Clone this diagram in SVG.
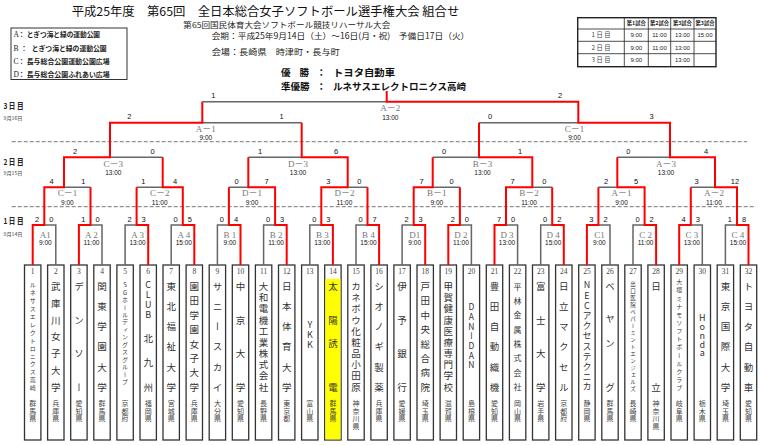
<svg xmlns="http://www.w3.org/2000/svg" width="760" height="445" viewBox="0 0 760 445">
<style>
text{font-family:"Noto Sans CJK JP","Liberation Sans",sans-serif;fill:#222}
.ttl{font-size:12px;fill:#111}
.sub{font-size:7.8px}
.info{font-size:8.3px}
.lg{font-size:7px;font-weight:bold}
.lgl{font-family:"Liberation Serif","Noto Sans CJK JP",serif;font-size:7.5px;font-weight:normal}
.win{font-size:9.5px;font-weight:bold;fill:#111}
.th{font-size:5.3px;text-anchor:middle;font-weight:bold}
.td{font-size:6px;text-anchor:middle;font-family:"Liberation Sans",sans-serif}
.tr{font-size:6.3px;text-anchor:middle;fill:#444}
.day{font-size:8px;font-weight:bold}
.dt{font-size:5px;fill:#444}
.dash{stroke:#777;stroke-width:1;stroke-dasharray:4 2;fill:none}
.l{fill:none;stroke:#666;stroke-width:1.5}
.w{fill:none;stroke:#ff0000;stroke-width:2}
.mn{font-family:"Liberation Serif","Noto Sans CJK JP",serif;font-size:9px;fill:#777;text-anchor:middle}
.mt{font-family:"Liberation Sans",sans-serif;font-size:6.5px;fill:#111;text-anchor:middle}
.sc{font-family:"Liberation Sans",sans-serif;font-size:7.5px;fill:#111;text-anchor:middle}
.box{fill:#fff;stroke:#333;stroke-width:1.3}
.no{font-family:"Liberation Serif",serif;font-size:7.5px;text-anchor:middle;fill:#444}
.v{writing-mode:vertical-rl;text-orientation:upright;font-size:9.5px;fill:#333}
.pf{writing-mode:vertical-rl;text-orientation:upright;font-size:7px;fill:#444;letter-spacing:0.5px}
</style>
<rect width="760" height="445" fill="#fff"/>

<g id="header">
<text class="ttl" x="71.7" y="16.2" textLength="387.6" lengthAdjust="spacingAndGlyphs">平成25年度　第65回　全日本総合女子ソフトボール選手権大会 組合せ</text>
<text class="sub" x="183.3" y="28" textLength="207" lengthAdjust="spacingAndGlyphs">第65回国民体育大会ソフトボール競技リハーサル大会</text>
<text class="info" x="211.7" y="39.3" textLength="257.6" lengthAdjust="spacingAndGlyphs">会期：平成25年9月14日（土）～16日(月・祝)　予備日17日（火）</text>
<text class="info" x="211.7" y="54.5" textLength="128" lengthAdjust="spacingAndGlyphs">会場：長崎県　時津町・長与町</text>
</g>

<g id="legend">
<rect x="11" y="28" width="116" height="51.5" fill="#fff" stroke="#333" stroke-width="1"/>
<text class="lg" y="37"><tspan class="lgl" x="13.5">A</tspan><tspan x="18">：</tspan><tspan x="26.7" textLength="73.3" lengthAdjust="spacingAndGlyphs">とぎつ海と緑の運動公園</tspan></text>
<text class="lg" y="50.8"><tspan class="lgl" x="13.5">B</tspan><tspan x="20.5">：</tspan><tspan x="31.7" textLength="75" lengthAdjust="spacingAndGlyphs">とぎつ海と緑の運動公園</tspan></text>
<text class="lg" y="64.2"><tspan class="lgl" x="13.5">C</tspan><tspan x="18">：</tspan><tspan x="26.7" textLength="83" lengthAdjust="spacingAndGlyphs">長与総合公園運動公園広場</tspan></text>
<text class="lg" y="76.5"><tspan class="lgl" x="13.5">D</tspan><tspan x="18">：</tspan><tspan x="26.7" textLength="83" lengthAdjust="spacingAndGlyphs">長与総合公園ふれあい広場</tspan></text>
</g>

<g id="schedule">
<rect x="577.7" y="17.7" width="138.3" height="49" fill="#fff" stroke="#222" stroke-width="1.4"/>
<path d="M577.7 29H716M577.7 41.3H716M577.7 53.7H716M624.3 17.7V66.7M648.3 17.7V66.7M670.7 17.7V66.7M694 17.7V66.7" stroke="#222" stroke-width="0.8" fill="none"/>
<text class="th" x="636.3" y="25.3">第1試合</text>
<text class="th" x="659.5" y="25.3">第2試合</text>
<text class="th" x="682.4" y="25.3">第3試合</text>
<text class="th" x="705" y="25.3">第3試合</text>
<text class="tr" x="601" y="37.4">1 日 目</text>
<text class="tr" x="601" y="49.7">2 日 目</text>
<text class="tr" x="601" y="62.3">3 日 目</text>
<text class="td" x="636.3" y="37.2">9:00</text>
<text class="td" x="659.5" y="37.2">11:00</text>
<text class="td" x="682.4" y="37.2">13:00</text>
<text class="td" x="705" y="37.2">15:00</text>
<text class="td" x="636.3" y="49.5">9:00</text>
<text class="td" x="659.5" y="49.5">11:00</text>
<text class="td" x="682.4" y="49.5">13:00</text>
<text class="td" x="636.3" y="62.1">9:00</text>
<text class="td" x="682.4" y="62.1">13:00</text>
</g>

<g id="result">
<text class="win" y="75.5"><tspan x="281">優</tspan><tspan x="299.5">勝</tspan><tspan x="316.5">：</tspan><tspan x="333" textLength="62" lengthAdjust="spacingAndGlyphs">トヨタ自動車</tspan></text>
<text class="win" y="89.5"><tspan x="281" textLength="28.5" lengthAdjust="spacingAndGlyphs">準優勝</tspan><tspan x="316.5">：</tspan><tspan x="333" textLength="133" lengthAdjust="spacingAndGlyphs">ルネサスエレクトロニクス高崎</tspan></text>
</g>

<g id="days">
<text class="day" x="3.5" y="109" textLength="20" lengthAdjust="spacingAndGlyphs">3 日 目</text>
<text class="dt" x="3.5" y="119.7" textLength="19" lengthAdjust="spacingAndGlyphs">9月16日</text>
<text class="day" x="3.5" y="165" textLength="20" lengthAdjust="spacingAndGlyphs">2 日 目</text>
<text class="dt" x="3.5" y="175.3" textLength="19" lengthAdjust="spacingAndGlyphs">9月15日</text>
<text class="day" x="3.5" y="223.5" textLength="20" lengthAdjust="spacingAndGlyphs">1 日 目</text>
<text class="dt" x="3.5" y="235.5" textLength="19" lengthAdjust="spacingAndGlyphs">9月14日</text>
<path class="dash" d="M11.7 141.7H747M11.7 206.7H756"/>
</g>

<g id="teams">
<g id="team-1" transform="translate(32.7 0)"><rect class="box" x="-8.2" y="265" width="16.4" height="175"/><text class="no" x="0" y="273.5">1</text><text class="v" x="0" y="282" style="font-size:6px;letter-spacing:1.92px">ルネサスエレクトロニクス高崎</text><text class="pf" x="0" y="400">群馬県</text></g>
<g id="team-2" transform="translate(55.8 0)"><rect class="box" x="-8.2" y="265" width="16.4" height="175"/><text class="no" x="0" y="273.5">2</text><text class="v" x="0" y="281.75" style="letter-spacing:7.25px">武庫川女子大学</text><text class="pf" x="0" y="400">兵庫県</text></g>
<g id="team-3" transform="translate(78.9 0)"><rect class="box" x="-8.2" y="265" width="16.4" height="175"/><text class="no" x="0" y="273.5">3</text><text class="v" x="0 0 0 0" y="281.75 315.25 348.75 382.25">デンソー</text><text class="pf" x="0" y="400">愛知県</text></g>
<g id="team-4" transform="translate(102 0)"><rect class="box" x="-8.2" y="265" width="16.4" height="175"/><text class="no" x="0" y="273.5">4</text><text class="v" x="0" y="281.75" style="letter-spacing:10.6px">関東学園大学</text><text class="pf" x="0" y="400">群馬県</text></g>
<g id="team-5" transform="translate(125.1 0)"><rect class="box" x="-8.2" y="265" width="16.4" height="175"/><text class="no" x="0" y="273.5">5</text><text class="v" x="0" y="282" style="font-size:6px;letter-spacing:1.44px">SGホールディングスグループ</text><text class="pf" x="0" y="400">京都府</text></g>
<g id="team-6" transform="translate(148.2 0)"><rect class="box" x="-8.2" y="265" width="16.4" height="175"/><text class="no" x="0" y="273.5">6</text><text class="v" x="0" y="280.5" style="font-size:9px;letter-spacing:0.7px">CLUB</text><text class="v" x="0 0 0" y="333.25 357.75 382.25">北九州</text><text class="pf" x="0" y="400">福岡県</text></g>
<g id="team-7" transform="translate(171.2 0)"><rect class="box" x="-8.2" y="265" width="16.4" height="175"/><text class="no" x="0" y="273.5">7</text><text class="v" x="0" y="281.75" style="letter-spacing:10.6px">東北福祉大学</text><text class="pf" x="0" y="400">宮城県</text></g>
<g id="team-8" transform="translate(194.3 0)"><rect class="box" x="-8.2" y="265" width="16.4" height="175"/><text class="no" x="0" y="273.5">8</text><text class="v" x="0" y="281.75" style="letter-spacing:4.86px">園田学園女子大学</text><text class="pf" x="0" y="400">兵庫県</text></g>
<g id="team-9" transform="translate(217.4 0)"><rect class="box" x="-8.2" y="265" width="16.4" height="175"/><text class="no" x="0" y="273.5">9</text><text class="v" x="0" y="281.75" style="letter-spacing:10.6px">サニースカイ</text><text class="pf" x="0" y="400">大分県</text></g>
<g id="team-10" transform="translate(240.5 0)"><rect class="box" x="-8.2" y="265" width="16.4" height="175"/><text class="no" x="0" y="273.5">10</text><text class="v" x="0 0 0 0" y="281.75 315.25 348.75 382.25">中京大学</text><text class="pf" x="0" y="400">愛知県</text></g>
<g id="team-11" transform="translate(263.6 0)"><rect class="box" x="-8.2" y="265" width="16.4" height="175"/><text class="no" x="0" y="273.5">11</text><text class="v" x="0" y="281.75" style="letter-spacing:1.67px">大和電機工業株式会社</text><text class="pf" x="0" y="400">長野県</text></g>
<g id="team-12" transform="translate(286.7 0)"><rect class="box" x="-8.2" y="265" width="16.4" height="175"/><text class="no" x="0" y="273.5">12</text><text class="v" x="0" y="281.75" style="letter-spacing:10.6px">日本体育大学</text><text class="pf" x="0" y="400">東京都</text></g>
<g id="team-13" transform="translate(309.8 0)"><rect class="box" x="-8.2" y="265" width="16.4" height="175"/><text class="no" x="0" y="273.5">13</text><text class="v" x="0" y="320.5" style="font-size:9px;letter-spacing:1px">YKK</text><text class="pf" x="0" y="400">富山県</text></g>
<g id="team-14" transform="translate(332.9 0)"><rect class="box" x="-8.2" y="265" width="16.4" height="175"/><rect x="-7.55" y="279" width="15.1" height="160.35" fill="#ffff00"/><text class="no" x="0" y="273.5">14</text><text class="v" x="0 0 0 0" y="281.75 315.25 338.75 382.25">太陽誘電</text><text class="pf" x="0" y="400">群馬県</text></g>
<g id="team-15" transform="translate(356 0)"><rect class="box" x="-8.2" y="265" width="16.4" height="175"/><text class="no" x="0" y="273.5">15</text><text class="v" x="0" y="281.75" style="letter-spacing:1.67px">カネボウ化粧品小田原</text><text class="pf" x="0" y="400">神奈川県</text></g>
<g id="team-16" transform="translate(379.1 0)"><rect class="box" x="-8.2" y="265" width="16.4" height="175"/><text class="no" x="0" y="273.5">16</text><text class="v" x="0" y="281.75" style="letter-spacing:10.6px">シオノギ製薬</text><text class="pf" x="0" y="400">兵庫県</text></g>
<g id="team-17" transform="translate(402.1 0)"><rect class="box" x="-8.2" y="265" width="16.4" height="175"/><text class="no" x="0" y="273.5">17</text><text class="v" x="0 0 0 0" y="281.75 315.25 348.75 382.25">伊予銀行</text><text class="pf" x="0" y="400">愛媛県</text></g>
<g id="team-18" transform="translate(425.2 0)"><rect class="box" x="-8.2" y="265" width="16.4" height="175"/><text class="no" x="0" y="273.5">18</text><text class="v" x="0" y="281.75" style="letter-spacing:4.86px">戸田中央総合病院</text><text class="pf" x="0" y="400">埼玉県</text></g>
<g id="team-19" transform="translate(448.3 0)"><rect class="box" x="-8.2" y="265" width="16.4" height="175"/><text class="no" x="0" y="273.5">19</text><text class="v" x="0" y="281.75" style="letter-spacing:1.67px">甲賀健康医療専門学校</text><text class="pf" x="0" y="400">滋賀県</text></g>
<g id="team-20" transform="translate(471.4 0)"><rect class="box" x="-8.2" y="265" width="16.4" height="175"/><text class="no" x="0" y="273.5">20</text><text class="v" x="0" y="302.75" style="font-size:8.5px;letter-spacing:1.17px">DANーDAN</text><text class="pf" x="0" y="400">島根県</text></g>
<g id="team-21" transform="translate(494.5 0)"><rect class="box" x="-8.2" y="265" width="16.4" height="175"/><text class="no" x="0" y="273.5">21</text><text class="v" x="0" y="281.75" style="letter-spacing:10.6px">豊田自動織機</text><text class="pf" x="0" y="400">愛知県</text></g>
<g id="team-22" transform="translate(517.6 0)"><rect class="box" x="-8.2" y="265" width="16.4" height="175"/><text class="no" x="0" y="273.5">22</text><text class="v" x="0" y="282.5" style="font-size:8px;letter-spacing:6.36px">平林金属株式会社</text><text class="pf" x="0" y="400">岡山県</text></g>
<g id="team-23" transform="translate(540.7 0)"><rect class="box" x="-8.2" y="265" width="16.4" height="175"/><text class="no" x="0" y="273.5">23</text><text class="v" x="0 0 0 0" y="281.75 315.25 348.75 382.25">富士大学</text><text class="pf" x="0" y="400">岩手県</text></g>
<g id="team-24" transform="translate(563.8 0)"><rect class="box" x="-8.2" y="265" width="16.4" height="175"/><text class="no" x="0" y="273.5">24</text><text class="v" x="0" y="281.75" style="letter-spacing:10.6px">日立マクセル</text><text class="pf" x="0" y="400">京都府</text></g>
<g id="team-25" transform="translate(586.9 0)"><rect class="box" x="-8.2" y="265" width="16.4" height="175"/><text class="no" x="0" y="273.5">25</text><text class="v" x="0" y="280.5" style="font-size:9px;letter-spacing:1.2px">NECアクセステクニカ</text><text class="pf" x="0" y="400">静岡県</text></g>
<g id="team-26" transform="translate(610 0)"><rect class="box" x="-8.2" y="265" width="16.4" height="175"/><text class="no" x="0" y="273.5">26</text><text class="v" x="0 0 0 0" y="281.75 313.25 338.75 382.25">ベヤング</text><text class="pf" x="0" y="400">群馬県</text></g>
<g id="team-27" transform="translate(633 0)"><rect class="box" x="-8.2" y="265" width="16.4" height="175"/><text class="no" x="0" y="273.5">27</text><text class="v" x="0" y="280.95" style="font-size:5.5px;letter-spacing:1.5px">出口医院ペパーミントエンジェルズ</text><text class="pf" x="0" y="400">長崎県</text></g>
<g id="team-28" transform="translate(656.1 0)"><rect class="box" x="-8.2" y="265" width="16.4" height="175"/><text class="no" x="0" y="273.5">28</text><text class="v" x="0 0" y="281.75 382.25">日立</text><text class="pf" x="0" y="400">神奈川県</text></g>
<g id="team-29" transform="translate(679.2 0)"><rect class="box" x="-8.2" y="265" width="16.4" height="175"/><text class="no" x="0" y="273.5">29</text><text class="v" x="0" y="279" style="font-size:6px;letter-spacing:2.15px">大垣ミナモソフトボールクラブ</text><text class="pf" x="0" y="400">岐阜県</text></g>
<g id="team-30" transform="translate(702.3 0)"><rect class="box" x="-8.2" y="265" width="16.4" height="175"/><text class="no" x="0" y="273.5">30</text><text class="v" x="0" y="313.5" style="font-size:9px;letter-spacing:-0.25px">Honda</text><text class="pf" x="0" y="400">栃木県</text></g>
<g id="team-31" transform="translate(725.4 0)"><rect class="box" x="-8.2" y="265" width="16.4" height="175"/><text class="no" x="0" y="273.5">31</text><text class="v" x="0" y="281.75" style="letter-spacing:10.6px">東京国際大学</text><text class="pf" x="0" y="400">埼玉県</text></g>
<g id="team-32" transform="translate(748.5 0)"><rect class="box" x="-8.2" y="265" width="16.4" height="175"/><text class="no" x="0" y="273.5">32</text><text class="v" x="0" y="281.75" style="letter-spacing:10.6px">トヨタ自動車</text><text class="pf" x="0" y="400">愛知県</text></g>
</g>

<g id="connectors">
<path class="l" d="M55.8 265V225H44.3M102 265V225H90.5M125.1 265V225H136.6M171.2 265V225H182.8M217.4 265V225H228.9M263.6 265V225H275.1M309.8 265V225H321.3M356 265V225H367.5M402.1 265V225H413.7M471.4 265V225H459.9M517.6 265V225H506M540.7 265V225H552.2M610 265V225H598.4M633 265V225H644.6M702.3 265V225H690.8M725.4 265V225H737"/>
<path class="l" d="M90.5 187.3H64M136.6 187.3H162.7M228.9 187.3H248.3M367.5 187.3H347.7M459.9 187.3H432.7M552.2 187.3H532.3M598.4 187.3H617.3M690.8 187.3H715"/>
<path class="l" d="M162.7 157.3H110M248.3 157.3H301.7M432.7 157.3H479M617.3 157.3H670"/>
<path class="l" d="M301.7 122.7H202.3M479 122.7H578.3M202.3 101.7H386.7"/>
<path class="w" d="M32.7 265V225H44.3V187.3H64V157.3H110V122.7H202.3V101.7"/>
<path class="w" d="M78.9 265V225H90.5V187.3"/>
<path class="w" d="M148.2 265V225H136.6V187.3"/>
<path class="w" d="M194.3 265V225H182.8V187.3H162.7V157.3"/>
<path class="w" d="M240.5 265V225H228.9V187.3"/>
<path class="w" d="M286.7 265V225H275.1V187.3H248.3V157.3"/>
<path class="w" d="M332.9 265V225H321.3V187.3H347.7V157.3H301.7V122.7"/>
<path class="w" d="M379.1 265V225H367.5V187.3"/>
<path class="w" d="M425.2 265V225H413.7V187.3H432.7V157.3"/>
<path class="w" d="M448.3 265V225H459.9V187.3"/>
<path class="w" d="M494.5 265V225H506V187.3H532.3V157.3H479V122.7"/>
<path class="w" d="M563.8 265V225H552.2V187.3"/>
<path class="w" d="M586.9 265V225H598.4V187.3"/>
<path class="w" d="M656.1 265V225H644.6V187.3H617.3V157.3"/>
<path class="w" d="M679.2 265V225H690.8V187.3"/>
<path class="w" d="M748.5 265V225H737V187.3H715V157.3H670V122.7H578.3V101.7H386.7V91"/>
</g>

<g id="matches">
<g id="m-final"><text class="mn" x="390.3" y="111">A－2</text><text class="mt" x="390.3" y="119.8">13:00</text><text class="sc" x="213.3" y="97.5">1</text><text class="sc" x="560" y="97.5">2</text></g>
<g id="m-sf-A1"><text class="mn" x="205.8" y="131.5">A－1</text><text class="mt" x="205.8" y="140.3">9:00</text><text class="sc" x="129.3" y="119">2</text><text class="sc" x="281.7" y="119">1</text></g>
<g id="m-sf-C1"><text class="mn" x="574.5" y="131.5">C－1</text><text class="mt" x="574.5" y="140.3">9:00</text><text class="sc" x="490" y="119">0</text><text class="sc" x="651.7" y="119">3</text></g>
<g id="m-qf-C3"><text class="mn" x="113.3" y="166.5">C－3</text><text class="mt" x="113.3" y="175.3">13:00</text><text class="sc" x="75" y="154">2</text><text class="sc" x="152.7" y="154">0</text></g>
<g id="m-qf-D3"><text class="mn" x="298" y="166.5">D－3</text><text class="mt" x="298" y="175.3">13:00</text><text class="sc" x="260" y="154">1</text><text class="sc" x="336" y="154">6</text></g>
<g id="m-qf-B3"><text class="mn" x="482.5" y="166.5">B－3</text><text class="mt" x="482.5" y="175.3">13:00</text><text class="sc" x="444" y="154">0</text><text class="sc" x="520" y="154">1</text></g>
<g id="m-qf-A3"><text class="mn" x="666" y="166.5">A－3</text><text class="mt" x="666" y="175.3">13:00</text><text class="sc" x="628.3" y="154">0</text><text class="sc" x="706" y="154">4</text></g>
<g id="m-r2-C1"><text class="mn" x="67.4" y="196">C－1</text><text class="mt" x="67.4" y="204.8">9:00</text><text class="sc" x="51.7" y="183.5">4</text><text class="sc" x="83.3" y="183.5">1</text></g>
<g id="m-r2-C2"><text class="mn" x="159.7" y="196">C－2</text><text class="mt" x="159.7" y="204.8">11:00</text><text class="sc" x="143.3" y="183.5">1</text><text class="sc" x="175" y="183.5">4</text></g>
<g id="m-r2-D1"><text class="mn" x="252" y="196">D－1</text><text class="mt" x="252" y="204.8">9:00</text><text class="sc" x="236.7" y="183.5">0</text><text class="sc" x="266.7" y="183.5">7</text></g>
<g id="m-r2-D2"><text class="mn" x="344.4" y="196">D－2</text><text class="mt" x="344.4" y="204.8">11:00</text><text class="sc" x="328.3" y="183.5">3</text><text class="sc" x="359.3" y="183.5">0</text></g>
<g id="m-r2-B1"><text class="mn" x="436.8" y="196">B－1</text><text class="mt" x="436.8" y="204.8">9:00</text><text class="sc" x="421.7" y="183.5">7</text><text class="sc" x="451.7" y="183.5">0</text></g>
<g id="m-r2-B2"><text class="mn" x="529.1" y="196">B－2</text><text class="mt" x="529.1" y="204.8">11:00</text><text class="sc" x="512.7" y="183.5">7</text><text class="sc" x="544.3" y="183.5">0</text></g>
<g id="m-r2-A1"><text class="mn" x="621.5" y="196">A－1</text><text class="mt" x="621.5" y="204.8">9:00</text><text class="sc" x="606" y="183.5">2</text><text class="sc" x="636" y="183.5">5</text></g>
<g id="m-r2-A2"><text class="mn" x="713.9" y="196">A－2</text><text class="mt" x="713.9" y="204.8">11:00</text><text class="sc" x="696.7" y="183.5">3</text><text class="sc" x="735" y="183.5">12</text></g>
<g id="m-A1"><text class="mn" x="45.3" y="237.5">A1</text><text class="mt" x="45.3" y="245.3">9:00</text><text class="sc" x="37.2" y="221.5">2</text><text class="sc" x="51.3" y="221.5">0</text></g>
<g id="m-A2"><text class="mn" x="91.5" y="237.5">A 2</text><text class="mt" x="91.5" y="245.3">11:00</text><text class="sc" x="83.4" y="221.5">1</text><text class="sc" x="97.5" y="221.5">0</text></g>
<g id="m-A3"><text class="mn" x="137.6" y="237.5">A 3</text><text class="mt" x="137.6" y="245.3">13:00</text><text class="sc" x="129.6" y="221.5">2</text><text class="sc" x="143.7" y="221.5">3</text></g>
<g id="m-A4"><text class="mn" x="183.8" y="237.5">A 4</text><text class="mt" x="183.8" y="245.3">15:00</text><text class="sc" x="175.7" y="221.5">0</text><text class="sc" x="189.8" y="221.5">5</text></g>
<g id="m-B1"><text class="mn" x="229.9" y="237.5">B 1</text><text class="mt" x="229.9" y="245.3">9:00</text><text class="sc" x="221.9" y="221.5">0</text><text class="sc" x="236" y="221.5">4</text></g>
<g id="m-B2"><text class="mn" x="276.1" y="237.5">B 2</text><text class="mt" x="276.1" y="245.3">11:00</text><text class="sc" x="268.1" y="221.5">0</text><text class="sc" x="282.2" y="221.5">3</text></g>
<g id="m-B3"><text class="mn" x="322.3" y="237.5">B 3</text><text class="mt" x="322.3" y="245.3">13:00</text><text class="sc" x="314.3" y="221.5">0</text><text class="sc" x="328.4" y="221.5">3</text></g>
<g id="m-B4"><text class="mn" x="368.5" y="237.5">B 4</text><text class="mt" x="368.5" y="245.3">15:00</text><text class="sc" x="360.5" y="221.5">0</text><text class="sc" x="374.6" y="221.5">7</text></g>
<g id="m-D1"><text class="mn" x="414.7" y="237.5">D1</text><text class="mt" x="414.7" y="245.3">9:00</text><text class="sc" x="406.6" y="221.5">2</text><text class="sc" x="420.7" y="221.5">3</text></g>
<g id="m-D2"><text class="mn" x="460.9" y="237.5">D 2</text><text class="mt" x="460.9" y="245.3">11:00</text><text class="sc" x="452.8" y="221.5">2</text><text class="sc" x="466.9" y="221.5">0</text></g>
<g id="m-D3"><text class="mn" x="507" y="237.5">D 3</text><text class="mt" x="507" y="245.3">13:00</text><text class="sc" x="499" y="221.5">7</text><text class="sc" x="513.1" y="221.5">0</text></g>
<g id="m-D4"><text class="mn" x="553.2" y="237.5">D 4</text><text class="mt" x="553.2" y="245.3">15:00</text><text class="sc" x="545.2" y="221.5">0</text><text class="sc" x="559.3" y="221.5">2</text></g>
<g id="m-C1"><text class="mn" x="599.4" y="237.5">C1</text><text class="mt" x="599.4" y="245.3">9:00</text><text class="sc" x="591.4" y="221.5">3</text><text class="sc" x="605.5" y="221.5">2</text></g>
<g id="m-C2"><text class="mn" x="645.6" y="237.5">C 2</text><text class="mt" x="645.6" y="245.3">11:00</text><text class="sc" x="637.5" y="221.5">0</text><text class="sc" x="651.6" y="221.5">2</text></g>
<g id="m-C3"><text class="mn" x="691.8" y="237.5">C 3</text><text class="mt" x="691.8" y="245.3">13:00</text><text class="sc" x="683.7" y="221.5">4</text><text class="sc" x="697.8" y="221.5">3</text></g>
<g id="m-C4"><text class="mn" x="738" y="237.5">C 4</text><text class="mt" x="738" y="245.3">15:00</text><text class="sc" x="729.9" y="221.5">1</text><text class="sc" x="744" y="221.5">8</text></g>
</g>
</svg>
